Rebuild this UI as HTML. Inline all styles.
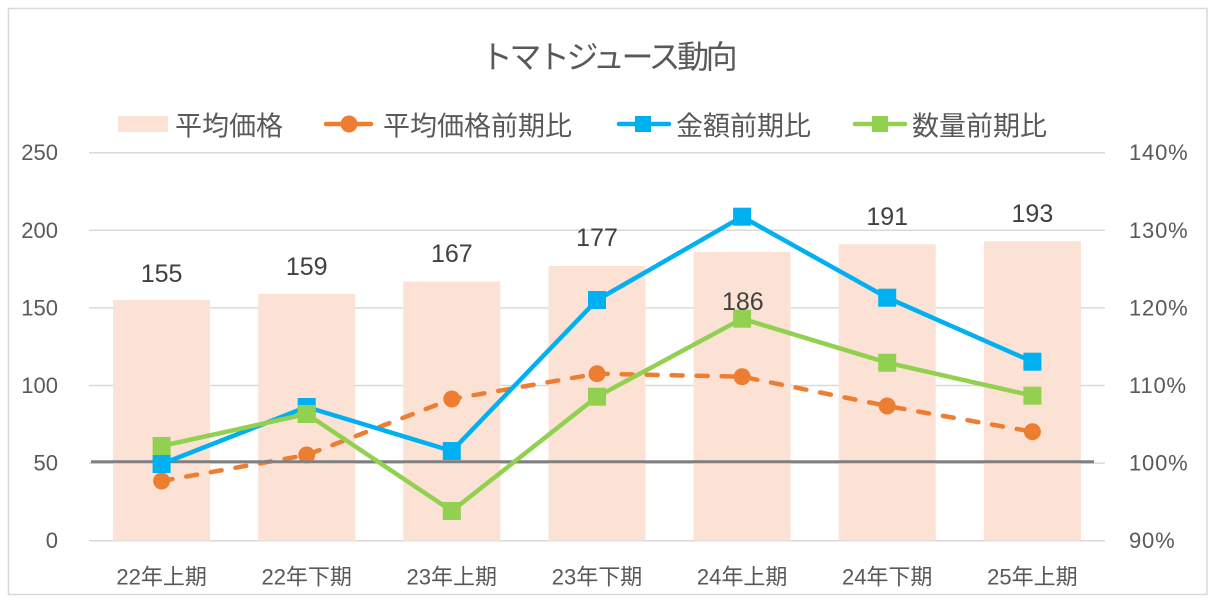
<!DOCTYPE html>
<html>
<head>
<meta charset="utf-8">
<style>
html,body{margin:0;padding:0;background:#fff;}
svg{display:block;}
text{font-family:"Liberation Sans","Noto Sans CJK JP",sans-serif;}
</style>
</head>
<body>
<svg width="1219" height="605" viewBox="0 0 1219 605" xmlns="http://www.w3.org/2000/svg">
  <rect x="0" y="0" width="1219" height="605" fill="#fff"/>
  <rect x="8.5" y="8.5" width="1198.5" height="586" fill="#fff" stroke="#d9d9d9" stroke-width="1.5"/>

  <!-- Title -->
  <text x="607.5" y="55" text-anchor="middle" dominant-baseline="central" font-size="32" fill="#595959" letter-spacing="-3.4" style="font-family:'Noto Sans CJK JP',sans-serif">トマトジュース動向</text>

  <!-- Legend -->
  <rect x="118" y="116" width="50" height="16" fill="#fbe2d5"/>
  <text x="175" y="124" dominant-baseline="central" font-size="27" fill="#595959" style="font-family:'Noto Sans CJK JP',sans-serif">平均価格</text>

  <line x1="326" y1="124" x2="371" y2="124" stroke="#ed7d31" stroke-width="4.5" stroke-linecap="round"/>
  <circle cx="349" cy="124" r="8.5" fill="#ed7d31"/>
  <text x="383" y="124" dominant-baseline="central" font-size="27" fill="#595959" style="font-family:'Noto Sans CJK JP',sans-serif">平均価格前期比</text>

  <line x1="619" y1="124" x2="669" y2="124" stroke="#00b0f0" stroke-width="4.5" stroke-linecap="round"/>
  <rect x="635" y="116" width="16" height="16" fill="#00b0f0"/>
  <text x="676" y="124" dominant-baseline="central" font-size="27" fill="#595959" style="font-family:'Noto Sans CJK JP',sans-serif">金額前期比</text>

  <line x1="855" y1="124" x2="905" y2="124" stroke="#92d050" stroke-width="4.5" stroke-linecap="round"/>
  <rect x="872" y="116" width="16" height="16" fill="#92d050"/>
  <text x="912" y="124" dominant-baseline="central" font-size="27" fill="#595959" style="font-family:'Noto Sans CJK JP',sans-serif">数量前期比</text>

  <!-- Gridlines -->
  <g stroke="#d9d9d9" stroke-width="1.5">
    <line x1="89" y1="152.7" x2="1105" y2="152.7"/>
    <line x1="89" y1="230.3" x2="1105" y2="230.3"/>
    <line x1="89" y1="307.9" x2="1105" y2="307.9"/>
    <line x1="89" y1="385.5" x2="1105" y2="385.5"/>
    <line x1="89" y1="463.1" x2="1105" y2="463.1"/>
    <line x1="89" y1="540.7" x2="1105" y2="540.7"/>
  </g>

  <!-- Bars -->
  <g fill="#fbe2d5">
    <rect x="113.1" y="300.1" width="97" height="240.6"/>
    <rect x="258.2" y="293.9" width="97" height="246.8"/>
    <rect x="403.3" y="281.5" width="97" height="259.2"/>
    <rect x="548.5" y="266.0" width="97" height="274.7"/>
    <rect x="693.6" y="252.0" width="97" height="288.7"/>
    <rect x="838.7" y="244.3" width="97" height="296.4"/>
    <rect x="983.9" y="241.2" width="97" height="299.5"/>
  </g>

  <!-- Left axis labels -->
  <g font-size="22" fill="#595959" text-anchor="end">
    <text x="58" y="152.7" dominant-baseline="central">250</text>
    <text x="58" y="230.3" dominant-baseline="central">200</text>
    <text x="58" y="307.9" dominant-baseline="central">150</text>
    <text x="58" y="385.5" dominant-baseline="central">100</text>
    <text x="58" y="463.1" dominant-baseline="central">50</text>
    <text x="58" y="540.7" dominant-baseline="central">0</text>
  </g>
  <!-- Right axis labels -->
  <g font-size="22" fill="#595959" letter-spacing="0.8">
    <text x="1129" y="152.7" dominant-baseline="central">140%</text>
    <text x="1129" y="230.3" dominant-baseline="central">130%</text>
    <text x="1129" y="307.9" dominant-baseline="central">120%</text>
    <text x="1129" y="385.5" dominant-baseline="central">110%</text>
    <text x="1129" y="463.1" dominant-baseline="central">100%</text>
    <text x="1129" y="540.7" dominant-baseline="central">90%</text>
  </g>

  <!-- X axis labels -->
  <g font-size="22" fill="#595959" text-anchor="middle">
    <text x="161.6" y="577" dominant-baseline="central">22年上期</text>
    <text x="306.7" y="577" dominant-baseline="central">22年下期</text>
    <text x="451.8" y="577" dominant-baseline="central">23年上期</text>
    <text x="597" y="577" dominant-baseline="central">23年下期</text>
    <text x="742.1" y="577" dominant-baseline="central">24年上期</text>
    <text x="887.2" y="577" dominant-baseline="central">24年下期</text>
    <text x="1032.4" y="577" dominant-baseline="central">25年上期</text>
  </g>

  <!-- Orange dashed series -->
  <polyline points="161.6,481 306.7,455 451.8,399 597,373.7 742.1,376.7 887.2,406 1032.4,431.7" fill="none" stroke="#ed7d31" stroke-width="4.5" stroke-dasharray="11 14" stroke-linecap="round" stroke-linejoin="round"/>
  <g fill="#ed7d31">
    <circle cx="161.6" cy="481" r="8.5"/>
    <circle cx="306.7" cy="455" r="8.5"/>
    <circle cx="451.8" cy="399" r="8.5"/>
    <circle cx="597" cy="373.7" r="8.5"/>
    <circle cx="742.1" cy="376.7" r="8.5"/>
    <circle cx="887.2" cy="406" r="8.5"/>
    <circle cx="1032.4" cy="431.7" r="8.5"/>
  </g>

  <!-- 100% line -->
  <line x1="91" y1="461.8" x2="1094" y2="461.8" stroke="#808080" stroke-width="3"/>

  <!-- Blue series -->
  <polyline points="161.6,464 306.7,407 451.8,451 597,300 742.1,216.7 887.2,297.7 1032.4,361.7" fill="none" stroke="#00b0f0" stroke-width="4.5" stroke-linejoin="round"/>
  <g fill="#00b0f0">
    <rect x="152.6" y="455" width="18" height="18"/>
    <rect x="297.7" y="398" width="18" height="18"/>
    <rect x="442.8" y="442" width="18" height="18"/>
    <rect x="588" y="291" width="18" height="18"/>
    <rect x="733.1" y="207.7" width="18" height="18"/>
    <rect x="878.2" y="288.7" width="18" height="18"/>
    <rect x="1023.4" y="352.7" width="18" height="18"/>
  </g>

  <!-- Green series -->
  <polyline points="161.6,446 306.7,414 451.8,511 597,396.7 742.1,318.7 887.2,362.7 1032.4,395.7" fill="none" stroke="#92d050" stroke-width="4.5" stroke-linejoin="round"/>
  <g fill="#92d050">
    <rect x="152.6" y="437" width="18" height="18"/>
    <rect x="297.7" y="405" width="18" height="18"/>
    <rect x="442.8" y="502" width="18" height="18"/>
    <rect x="588" y="387.7" width="18" height="18"/>
    <rect x="733.1" y="309.7" width="18" height="18"/>
    <rect x="878.2" y="353.7" width="18" height="18"/>
    <rect x="1023.4" y="386.7" width="18" height="18"/>
  </g>

  <!-- Data labels -->
  <g font-size="25" fill="#404040" text-anchor="middle">
    <text x="161.6" y="274" dominant-baseline="central">155</text>
    <text x="306.7" y="267" dominant-baseline="central">159</text>
    <text x="451.8" y="254" dominant-baseline="central">167</text>
    <text x="597" y="238" dominant-baseline="central">177</text>
    <text x="742.8" y="302" dominant-baseline="central">186</text>
    <text x="887.2" y="217" dominant-baseline="central">191</text>
    <text x="1032.4" y="214" dominant-baseline="central">193</text>
  </g>
</svg>
</body>
</html>
